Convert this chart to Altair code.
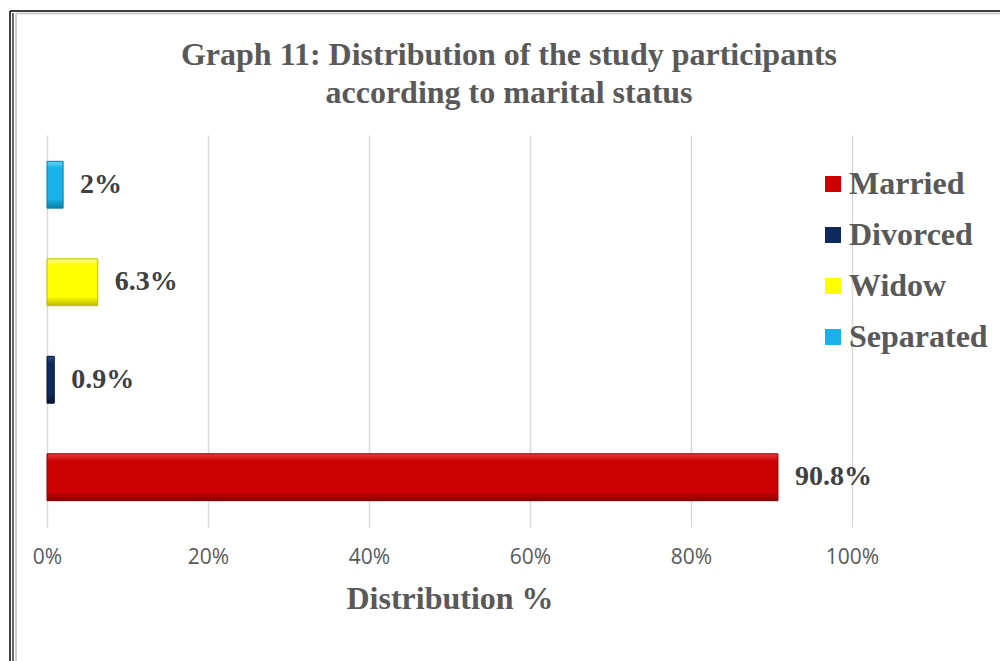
import altair as alt
import pandas as pd

# Marital status of the study participants (percent)
categories = ["Married", "Divorced", "Widow", "Separated"]
values = [90.8, 0.9, 6.3, 2.0]
value_labels = ["90.8%", "0.9%", "6.3%", "2%"]
colors = ["#cc0000", "#0e2a5c", "#ffff00", "#1ab2e6"]
light_colors = ["#e64040", "#2c4c8c", "#ffff80", "#66d2f5"]
dark_colors = ["#8a0000", "#061633", "#bcbc00", "#0c7fa6"]
x_ticks = [0, 20, 40, 60, 80, 100]
title_lines = ["Graph 11: Distribution of the study participants", "according to marital status"]

df = pd.DataFrame({"status": categories, "pct": values, "label": value_labels})
one = pd.DataFrame({"k": [0]})

SERIF = "Liberation Serif"
GREY = "#595959"

y_enc = alt.Y(
    "status:N",
    sort=categories[::-1],
    axis=None,
    scale=alt.Scale(paddingInner=0.52, paddingOuter=0.27),
)

x_enc = alt.X(
    "pct:Q",
    scale=alt.Scale(domain=[0, 100]),
    axis=alt.Axis(
        values=x_ticks,
        labelExpr="datum.value + '%'",
        labelFlush=False,
        title="Distribution %",
        titleFont=SERIF,
        titleFontSize=32,
        titleFontWeight="bold",
        titleColor=GREY,
        titlePadding=16,
        labelFont="Open Sans",
        labelFontSize=21,
        labelColor=GREY,
        labelPadding=19,
        domain=False,
        ticks=False,
        grid=True,
        gridColor="#d9d9d9",
        gridWidth=1.5,
    ),
)

# flat bars carry the colour scale and the legend
bars = alt.Chart(df).mark_bar().encode(
    x=x_enc,
    y=y_enc,
    color=alt.Color(
        "status:N",
        scale=alt.Scale(domain=categories, range=colors),
        legend=alt.Legend(
            title=None,
            orient="none",
            legendX=770,
            legendY=33,
            symbolType="square",
            symbolSize=256,
            symbolStrokeWidth=0,
            labelFont=SERIF,
            labelFontSize=32,
            labelFontWeight="bold",
            labelColor=GREY,
            labelOffset=0,
            rowPadding=19,
            padding=0,
            labelLimit=300,
        ),
    ),
)

# bevelled shading drawn on top of each bar
shaded = []
for cat, base, light, dark in zip(categories, colors, light_colors, dark_colors):
    grad = alt.Gradient(
        gradient="linear",
        x1=0, x2=0, y1=0, y2=1,
        stops=[
            alt.GradientStop(offset=0, color=light),
            alt.GradientStop(offset=0.15, color=base),
            alt.GradientStop(offset=0.8, color=base),
            alt.GradientStop(offset=1, color=dark),
        ],
    )
    shaded.append(
        alt.Chart(df)
        .transform_filter(alt.datum.status == cat)
        .mark_bar(color=grad, stroke=dark, strokeWidth=1)
        .encode(x="pct:Q", y=y_enc)
    )

texts = alt.Chart(df).mark_text(
    align="left",
    baseline="middle",
    dx=17,
    font=SERIF,
    fontSize=28,
    fontWeight="bold",
    color="#404040",
).encode(x="pct:Q", y=y_enc, text="label:N")


def title_line(text, y):
    return alt.Chart(one).mark_text(
        align="center",
        baseline="middle",
        font=SERIF,
        fontSize=32,
        fontWeight="bold",
        color=GREY,
    ).encode(x=alt.value(462), y=alt.value(y), text=alt.value(text))


heading = title_line(title_lines[0], -80) + title_line(title_lines[1], -42)


# page frame: black outer line (double on the left) and a grey inner line
def rule(x, x2, y, y2, color, width):
    return alt.Chart(one).mark_rule(color=color, strokeWidth=width).encode(
        x=alt.value(x), x2=alt.value(x2), y=alt.value(y), y2=alt.value(y2)
    )


border = (
    rule(-37, 960, -124, -124, "#000000", 1.5)
    + rule(-37, -37, -124, 540, "#000000", 1.5)
    + rule(-34, -34, -122, 540, "#000000", 1.2)
    + rule(-31, 960, -121.5, -121.5, "#cfcfcf", 2)
    + rule(-31, -31, -121.5, 540, "#cfcfcf", 2)
)

chart = (
    alt.layer(border, heading, bars, *shaded, texts)
    .properties(
        width=805,
        height=392,
        autosize=alt.AutoSizeParams(type="none"),
        padding={"left": 47, "top": 135, "right": 148, "bottom": 134},
        background="white",
    )
    .configure_view(stroke=None)
)

chart.save("out.html", embed_options={"renderer": "svg", "actions": False})
